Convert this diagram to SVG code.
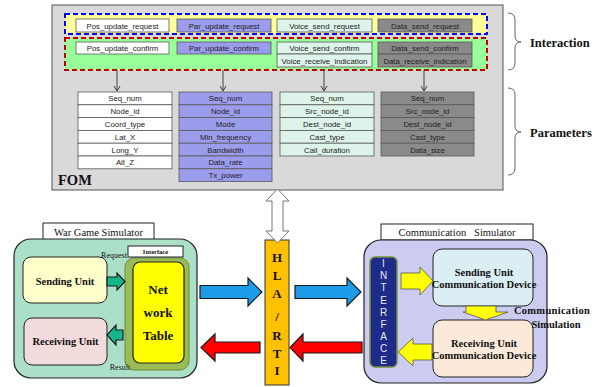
<svg xmlns="http://www.w3.org/2000/svg" width="603" height="387" viewBox="0 0 603 387">
<style>
.cell{stroke:#595959;stroke-width:0.8}
.ft{font-family:"Liberation Sans",Arial,sans-serif;font-size:7.8px;fill:#222;text-anchor:middle}
.w{fill:#ffffff}.p{fill:#9c9ced}.m{fill:#def3ea}.g{fill:#8a8a8a}
.sb{font-family:"Liberation Serif","Times New Roman",serif;font-weight:bold;fill:#111}
.sr{font-family:"Liberation Serif","Times New Roman",serif;fill:#111}
.brace{fill:none;stroke:#666;stroke-width:1}
.dn{stroke:#404040;stroke-width:1;fill:none}
.bk{stroke:#1a1a1a;stroke-width:1.2}
</style>
<rect width="603" height="387" fill="#ffffff"/>

<g id="fom">
<rect x="52" y="5" width="451" height="185" fill="#d9d9d9" stroke="#555" stroke-width="1"/>
<rect x="65" y="14" width="422" height="20" fill="#ffff99" stroke="#0000ff" stroke-width="2" stroke-dasharray="5,3"/>
<rect x="65" y="38" width="422" height="32" fill="#99ff99" stroke="#c00000" stroke-width="2" stroke-dasharray="5,3"/>
<text class="sb" x="58" y="185" font-size="14.5">FOM</text>
</g>

<g id="interaction-row1">
<rect class="cell w" x="76" y="19" width="93" height="13"/><text class="ft" x="122.5" y="28.5">Pos_update_request</text>
<rect class="cell p" x="177" y="19" width="94" height="13"/><text class="ft" x="224" y="28.5">Par_update_request</text>
<rect class="cell m" x="277" y="19" width="95" height="13"/><text class="ft" x="324.5" y="28.5">Voice_send_request</text>
<rect class="cell g" x="378" y="19" width="94" height="13"/><text class="ft" x="425" y="28.5">Data_send_request</text>
</g>
<g id="interaction-row2">
<rect class="cell w" x="76" y="42" width="93" height="12"/><text class="ft" x="122.5" y="51">Pos_update_confirm</text>
<rect class="cell p" x="177" y="42" width="94" height="12"/><text class="ft" x="224" y="51">Par_update_confirm</text>
<rect class="cell m" x="277" y="42" width="95" height="12"/><text class="ft" x="324.5" y="51">Voice_send_confirm</text>
<rect class="cell m" x="277" y="54" width="95" height="13"/><text class="ft" x="324.5" y="63.5">Voice_receive_indication</text>
<rect class="cell g" x="378" y="42" width="94" height="12"/><text class="ft" x="425" y="51">Data_send_confirm</text>
<rect class="cell g" x="378" y="54" width="94" height="13"/><text class="ft" x="425" y="63.5">Data_receive_indication</text>
</g>

<g id="params-pos">
<rect class="cell w" x="78" y="92" width="94" height="12.8"/><text class="ft" x="125" y="101.3">Seq_num</text>
<rect class="cell w" x="78" y="104.8" width="94" height="12.8"/><text class="ft" x="125" y="114.1">Node_id</text>
<rect class="cell w" x="78" y="117.6" width="94" height="12.8"/><text class="ft" x="125" y="126.9">Coord_type</text>
<rect class="cell w" x="78" y="130.4" width="94" height="12.8"/><text class="ft" x="125" y="139.7">Lat_X</text>
<rect class="cell w" x="78" y="143.2" width="94" height="12.8"/><text class="ft" x="125" y="152.5">Long_Y</text>
<rect class="cell w" x="78" y="156" width="94" height="12.8"/><text class="ft" x="125" y="165.3">Alt_Z</text>
</g>
<g id="params-par">
<rect class="cell p" x="179" y="92" width="93" height="12.8"/><text class="ft" x="225.5" y="101.3">Seq_num</text>
<rect class="cell p" x="179" y="104.8" width="93" height="12.8"/><text class="ft" x="225.5" y="114.1">Node_id</text>
<rect class="cell p" x="179" y="117.6" width="93" height="12.8"/><text class="ft" x="225.5" y="126.9">Mode</text>
<rect class="cell p" x="179" y="130.4" width="93" height="12.8"/><text class="ft" x="225.5" y="139.7">Min_frequency</text>
<rect class="cell p" x="179" y="143.2" width="93" height="12.8"/><text class="ft" x="225.5" y="152.5">Bandwidth</text>
<rect class="cell p" x="179" y="156" width="93" height="12.8"/><text class="ft" x="225.5" y="165.3">Data_rate</text>
<rect class="cell p" x="179" y="168.8" width="93" height="12.8"/><text class="ft" x="225.5" y="178.1">Tx_power</text>
</g>
<g id="params-voice">
<rect class="cell m" x="280" y="92" width="94" height="12.8"/><text class="ft" x="327" y="101.3">Seq_num</text>
<rect class="cell m" x="280" y="104.8" width="94" height="12.8"/><text class="ft" x="327" y="114.1">Src_node_id</text>
<rect class="cell m" x="280" y="117.6" width="94" height="12.8"/><text class="ft" x="327" y="126.9">Dest_node_id</text>
<rect class="cell m" x="280" y="130.4" width="94" height="12.8"/><text class="ft" x="327" y="139.7">Cast_type</text>
<rect class="cell m" x="280" y="143.2" width="94" height="12.8"/><text class="ft" x="327" y="152.5">Call_duration</text>
</g>
<g id="params-data">
<rect class="cell g" x="381" y="92" width="93" height="12.8"/><text class="ft" x="427.5" y="101.3">Seq_num</text>
<rect class="cell g" x="381" y="104.8" width="93" height="12.8"/><text class="ft" x="427.5" y="114.1">Src_node_id</text>
<rect class="cell g" x="381" y="117.6" width="93" height="12.8"/><text class="ft" x="427.5" y="126.9">Dest_node_id</text>
<rect class="cell g" x="381" y="130.4" width="93" height="12.8"/><text class="ft" x="427.5" y="139.7">Cast_type</text>
<rect class="cell g" x="381" y="143.2" width="93" height="12.8"/><text class="ft" x="427.5" y="152.5">Data_size</text>
</g>

<g id="braces">
<path class="brace" d="M508 13 Q515 13 515 20 L515 36 Q515 42 521 42 Q515 42 515 48 L515 63 Q515 70 508 70"/>
<text class="sb" x="530" y="47" font-size="12.5">Interaction</text>
<path class="brace" d="M508 88 Q515 88 515 95 L515 126 Q515 132 521 132 Q515 132 515 138 L515 168 Q515 175 508 175"/>
<text class="sb" x="530" y="137" font-size="12.5">Parameters</text>
</g>

<g id="war-game-simulator">
<rect x="43" y="223" width="111" height="17" fill="#fff" stroke="#222" stroke-width="1"/>
<text class="sr" x="98.5" y="236" font-size="10.5" text-anchor="middle">War Game Simulator</text>
<rect x="14" y="239" width="183" height="139" rx="17" fill="#abdfc8" stroke="#222" stroke-width="1.2"/>
<rect x="23" y="257" width="84" height="46" rx="8" fill="#ffffcc" stroke="#222" stroke-width="1"/>
<text class="sb" x="65" y="285" font-size="10.5" text-anchor="middle">Sending Unit</text>
<rect x="24" y="318" width="83" height="47" rx="8" fill="#f2dcdb" stroke="#222" stroke-width="1"/>
<text class="sb" x="65.5" y="345" font-size="10.5" text-anchor="middle">Receiving Unit</text>
<rect x="125" y="258" width="64" height="112" rx="9" fill="#9bbb59" stroke="#6f8a3a" stroke-width="1"/>
<rect x="133" y="262" width="51" height="101" rx="7" fill="#ffff00" stroke="#222" stroke-width="1.2"/>
<rect x="128" y="246" width="55" height="11" fill="#fff" stroke="#222" stroke-width="1"/>
<text class="sb" x="155.5" y="254" font-size="6.5" text-anchor="middle">Interface</text>
<text class="sb" x="158" y="294" font-size="13" text-anchor="middle">Net</text>
<text class="sb" x="158" y="317" font-size="13" text-anchor="middle">work</text>
<text class="sb" x="158" y="340" font-size="13" text-anchor="middle">Table</text>
<text class="sr" x="114" y="258" font-size="8" text-anchor="middle">Request</text>
<text class="sr" x="120" y="370" font-size="8" text-anchor="middle">Result</text>
<path class="bk" d="M107 277 L117 277 L117 273 L125 281.5 L117 290 L117 286 L107 286 Z" fill="#16b58c" stroke-width="0.8"/>
<path class="bk" d="M123 330 L116 330 L116 325 L107 335 L116 345 L116 340 L123 340 Z" fill="#16b58c" stroke-width="0.8"/>
</g>

<g id="hla-rti">
<rect x="265" y="240" width="24" height="145" fill="#ffc000" stroke="#333" stroke-width="1"/>
<text class="sb" font-size="13" text-anchor="middle">
<tspan x="277" y="262">H</tspan><tspan x="277" y="280">L</tspan><tspan x="277" y="298">A</tspan><tspan x="277" y="321">/</tspan><tspan x="277" y="340">R</tspan><tspan x="277" y="358">T</tspan><tspan x="277" y="375">I</tspan>
</text>
</g>

<g id="communication-simulator">
<rect x="381" y="224" width="152" height="16" fill="#fff" stroke="#222" stroke-width="1"/>
<text class="sr" x="457" y="236" font-size="10.5" text-anchor="middle" xml:space="preserve">Communication   Simulator</text>
<rect x="364" y="240" width="183" height="143" rx="17" fill="#ccccf0" stroke="#222" stroke-width="1.2"/>
<rect x="370" y="257" width="27" height="110" rx="5" fill="#1f2b88" stroke="#77933c" stroke-width="1.5"/>
<text font-family="'Liberation Sans',Arial,sans-serif" font-size="10" fill="#e8e8f0" text-anchor="middle">
<tspan x="383.5" y="267">I</tspan><tspan x="383.5" y="279">N</tspan><tspan x="383.5" y="291">T</tspan><tspan x="383.5" y="303.5">E</tspan><tspan x="383.5" y="315.5">R</tspan><tspan x="383.5" y="327.5">F</tspan><tspan x="383.5" y="339.5">A</tspan><tspan x="383.5" y="352">C</tspan><tspan x="383.5" y="364">E</tspan>
</text>
<rect x="433" y="249" width="100" height="57" rx="9" fill="#daeef3" stroke="#222" stroke-width="1"/>
<text class="sb" x="484" y="276" font-size="10.5" text-anchor="middle">Sending Unit</text>
<text class="sb" x="484" y="288" font-size="10.5" text-anchor="middle">Communication Device</text>
<rect x="433" y="320" width="100" height="57" rx="9" fill="#fde9d9" stroke="#222" stroke-width="1"/>
<text class="sb" x="484" y="347" font-size="10.5" text-anchor="middle">Receiving Unit</text>
<text class="sb" x="484" y="359" font-size="10.5" text-anchor="middle">Communication Device</text>
<path d="M401 273 L420 273 L420 267 L433 281 L420 295 L420 289 L401 289 Z" fill="#ffff00" stroke="#555" stroke-width="0.8"/>
<path d="M466 306 L496 306 L496 312 L508 312 L485.5 320 L463 312 L466 312 Z" fill="#ffff00" stroke="#555" stroke-width="0.8"/>
<path d="M432 344 L413 344 L413 338 L398 352 L413 366 L413 360 L432 360 Z" fill="#ffff00" stroke="#555" stroke-width="0.8"/>
<text class="sb" x="552" y="314" font-size="10.5" text-anchor="middle" letter-spacing="0.3">Communication</text>
<text class="sb" x="556" y="328" font-size="10.5" text-anchor="middle">Simulation</text>
</g>

<g id="connectors">
<line class="dn" x1="117" y1="70" x2="117" y2="91"/><path class="dn" d="M114 86 L117 91 L120 86"/>
<line class="dn" x1="223" y1="70" x2="223" y2="91"/><path class="dn" d="M220 86 L223 91 L226 86"/>
<line class="dn" x1="324" y1="70" x2="324" y2="91"/><path class="dn" d="M321 86 L324 91 L327 86"/>
<line class="dn" x1="424" y1="70" x2="424" y2="91"/><path class="dn" d="M421 86 L424 91 L427 86"/>
<path d="M277.5 189 L289 201 L283 201 L283 231 L289 231 L277.5 243 L266 231 L272 231 L272 201 L266 201 Z" fill="#fff" stroke="#777" stroke-width="1"/>
<path class="bk" d="M200 285.5 L248 285.5 L248 278 L262 292 L248 306 L248 298.5 L200 298.5 Z" fill="#1e9be8"/>
<path class="bk" d="M295 285.5 L347 285.5 L347 278 L361 292 L347 306 L347 298.5 L295 298.5 Z" fill="#1e9be8"/>
<path class="bk" d="M260 342 L215 342 L215 334 L201 347.5 L215 361 L215 353 L260 353 Z" fill="#ff0000"/>
<path class="bk" d="M362 342 L303 342 L303 334 L290 347.5 L303 361 L303 353 L362 353 Z" fill="#ff0000"/>
</g>
</svg>
